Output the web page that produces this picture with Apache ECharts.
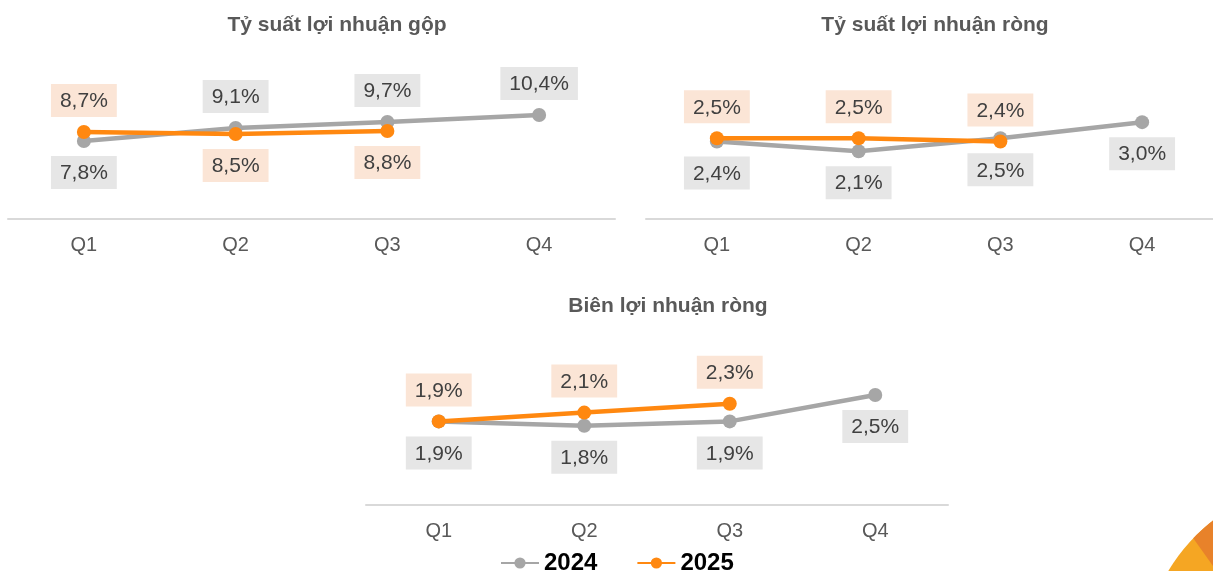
<!DOCTYPE html>
<html>
<head>
<meta charset="utf-8">
<script src="https://cdn.jsdelivr.net/npm/echarts@6/dist/echarts.min.js"></script>
<style>
html,body{margin:0;padding:0;background:#fff;}
#main{width:1213px;height:571px;}
</style>
</head>
<body>
<div id="main"></div>
<script>
// ---- data ----
const categories = ['Q1', 'Q2', 'Q3', 'Q4'];
const seriesNames = ['2024', '2025'];
const chartTitles = ['Tỷ suất lợi nhuận gộp', 'Tỷ suất lợi nhuận ròng', 'Biên lợi nhuận ròng'];

const gross2024 = [7.8, 9.1, 9.7, 10.4];
const gross2025 = [8.7, 8.5, 8.8];
const net2024 = [2.4, 2.1, 2.5, 3.0];
const net2025 = [2.5, 2.5, 2.4];
const margin2024 = [1.9, 1.8, 1.9, 2.5];
const margin2025 = [1.9, 2.1, 2.3];

// label placement (above / below each point)
const grossPos2024 = ['bottom', 'top', 'top', 'top'];
const grossPos2025 = ['top', 'bottom', 'bottom'];
const netPos2024 = ['bottom', 'bottom', 'bottom', 'bottom'];
const netPos2025 = ['top', 'top', 'top'];
const marginPos2024 = ['bottom', 'bottom', 'bottom', 'bottom'];
const marginPos2025 = ['top', 'top', 'top'];

// ---- styles ----
const GRAY = '#a6a6a6';
const ORANGE = '#ff8810';
const GRAY_BG = '#e6e6e6';
const ORANGE_BG = '#fbe5d6';
const FONT = '"Liberation Sans", Arial, sans-serif';

function fmt(p) {
  return p.value.toFixed(1).replace('.', ',') + '%';
}

function makeData(values, positions) {
  return values.map((v, i) => ({
    value: v,
    label: { position: positions[i], distance: 8 }
  }));
}

function makeSeries(name, values, positions, idx, color, bg) {
  return {
    name: name,
    type: 'line',
    xAxisIndex: idx,
    yAxisIndex: idx,
    data: makeData(values, positions),
    symbol: 'circle',
    symbolSize: 14,
    lineStyle: { color: color, width: 4.5 },
    itemStyle: { color: color },
    z: color === ORANGE ? 4 : 3,
    label: {
      show: true,
      formatter: fmt,
      fontFamily: FONT,
      fontSize: 21,
      lineHeight: 23,
      color: '#404040',
      backgroundColor: bg,
      padding: [6, 9, 4, 9]
    },
    emphasis: { disabled: true },
    animation: false
  };
}

const grids = [
  { left: 8, top: 99, width: 607, height: 120 },
  { left: 646, top: 106, width: 568, height: 113 },
  { left: 366, top: 373, width: 582, height: 132 }
];
const yMax = [12, 3.5, 3];

const xAxes = grids.map((g, i) => ({
  type: 'category',
  gridIndex: i,
  data: categories,
  boundaryGap: true,
  axisLine: { show: true, lineStyle: { color: '#d9d9d9', width: 2 } },
  axisTick: { show: false },
  axisLabel: { color: '#595959', fontSize: 20, fontFamily: FONT, margin: 16 }
}));

const yAxes = grids.map((g, i) => ({
  type: 'value',
  gridIndex: i,
  min: 0,
  max: yMax[i],
  show: false,
  splitLine: { show: false }
}));

const titleCenters = [[332, 10], [930, 10], [663, 291]];
const titles = chartTitles.map((t, i) => ({
  text: t,
  left: titleCenters[i][0],
  top: titleCenters[i][1],
  textAlign: 'center',
  textStyle: { fontFamily: FONT, fontSize: 21, fontWeight: 'bold', color: '#595959' }
}));

// decorative corner shape
const cx = 1323, cy = 663, r = 180;
function arcPts(a0, a1, n) {
  const pts = [];
  for (let k = 0; k <= n; k++) {
    const a = a0 + (a1 - a0) * k / n;
    pts.push([cx + r * Math.cos(a), cy + r * Math.sin(a)]);
  }
  return pts;
}
const aStart = Math.atan2(538 - cy, 1193 - cx);
const aEnd = Math.atan2(520 - cy, 1213 - cx);
const darkPts = arcPts(aStart, aEnd, 12).concat([[1213, 566]]);

const option = {
  backgroundColor: '#ffffff',
  animation: false,
  title: titles,
  grid: grids,
  xAxis: xAxes,
  yAxis: yAxes,
  legend: {
    data: seriesNames,
    top: 551,
    left: 495,
    padding: [0, 5],
    itemWidth: 38,
    itemHeight: 14,
    itemGap: 39,
    textStyle: { fontFamily: FONT, fontSize: 24, fontWeight: 'bold', color: '#000' }
  },
  graphic: [
    { type: 'circle', shape: { cx: cx, cy: cy, r: r }, style: { fill: '#f5a623' }, silent: true, z: 0 },
    { type: 'polygon', shape: { points: darkPts }, style: { fill: '#e8822a' }, silent: true, z: 1 }
  ],
  series: [
    makeSeries(seriesNames[0], gross2024, grossPos2024, 0, GRAY, GRAY_BG),
    makeSeries(seriesNames[1], gross2025, grossPos2025, 0, ORANGE, ORANGE_BG),
    makeSeries(seriesNames[0], net2024, netPos2024, 1, GRAY, GRAY_BG),
    makeSeries(seriesNames[1], net2025, netPos2025, 1, ORANGE, ORANGE_BG),
    makeSeries(seriesNames[0], margin2024, marginPos2024, 2, GRAY, GRAY_BG),
    makeSeries(seriesNames[1], margin2025, marginPos2025, 2, ORANGE, ORANGE_BG)
  ]
};

const chart = echarts.init(document.getElementById('main'), null, { renderer: 'canvas' });
chart.setOption(option);
</script>
</body>
</html>
